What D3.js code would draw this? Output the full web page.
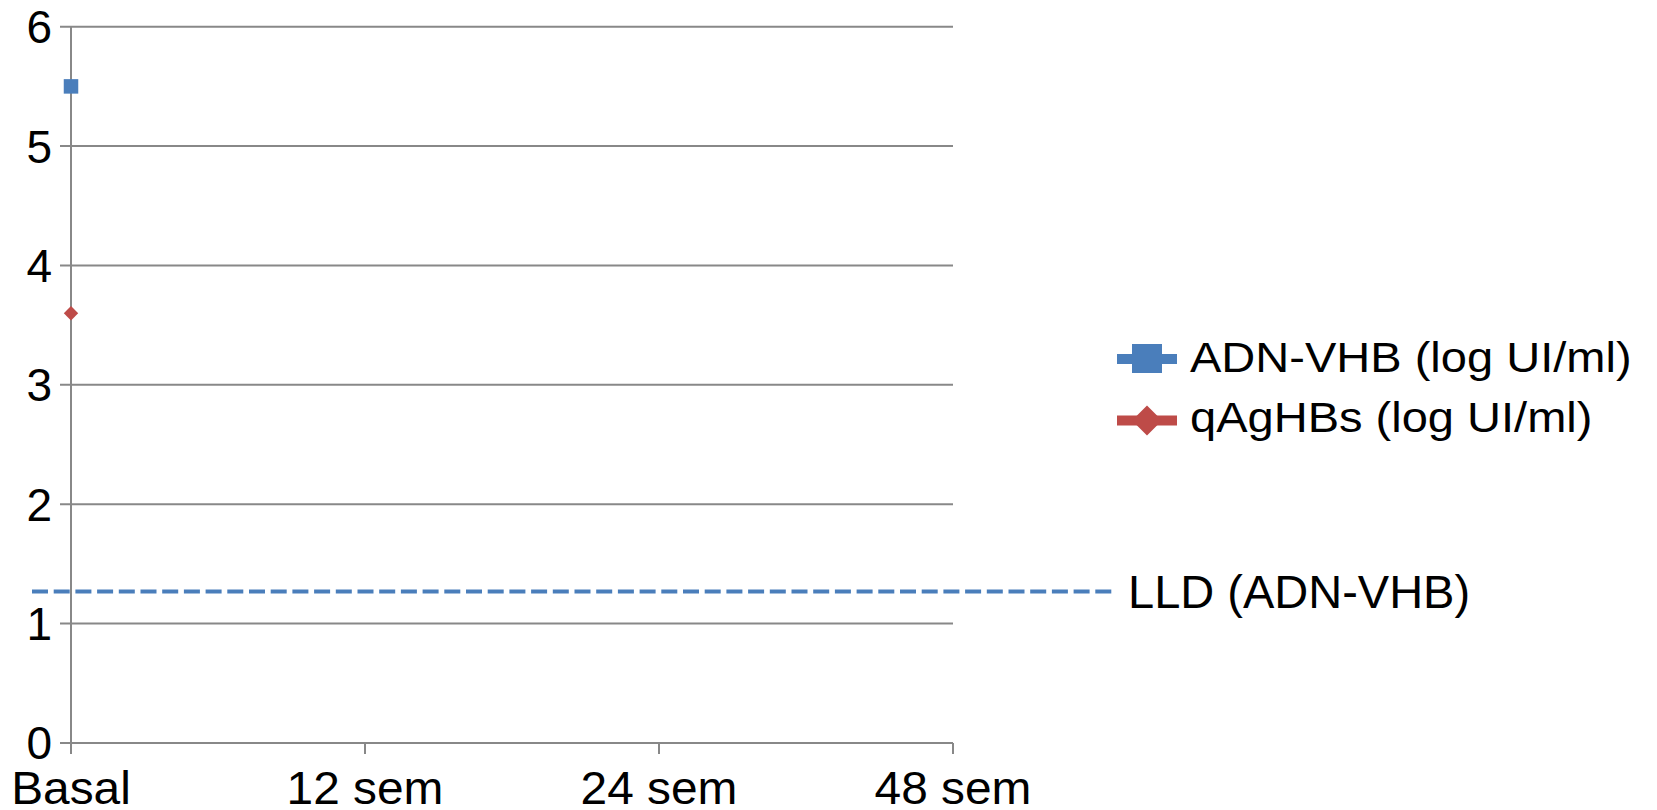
<!DOCTYPE html>
<html>
<head>
<meta charset="utf-8">
<script src="https://cdn.jsdelivr.net/npm/d3@7"></script>
<style>
  html, body { margin: 0; padding: 0; background: #fff; }
  svg { display: block; }
  text { font-family: "Liberation Sans", Arial, sans-serif; fill: #000; }
</style>
</head>
<body>
<svg id="chart" width="1657" height="810"></svg>
<script>
// Time points (x categories)
const categories = ["Basal", "12 sem", "24 sem", "48 sem"];
// Series values per time point (null = not measured)
const adnVhb = [5.5, null, null, null];
const qAgHBs = [3.6, null, null, null];
const seriesNames = ["ADN-VHB (log UI/ml)", "qAgHBs (log UI/ml)"];
// Lower limit of detection for ADN-VHB
const lldValue = 1.27;
const lldLabel = "LLD (ADN-VHB)";
// Y axis ticks
const yTicks = [0, 1, 2, 3, 4, 5, 6];

const blue = "#4a7ebb";
const red = "#be4b48";
const grid = "#888888";
const fontPx = 46;

const svg = d3.select("#chart");

const x = d3.scalePoint().domain(categories).range([71, 953]);
const y = d3.scaleLinear().domain([0, 6]).range([743, 26.7]);

// Horizontal gridlines with left tick stubs
svg.append("g")
  .selectAll("line")
  .data(yTicks)
  .join("line")
  .attr("x1", 60)
  .attr("x2", x.range()[1])
  .attr("y1", d => y(d))
  .attr("y2", d => y(d))
  .attr("stroke", grid)
  .attr("stroke-width", 2);

// Y tick labels
svg.append("g")
  .selectAll("text")
  .data(yTicks)
  .join("text")
  .attr("x", 52)
  .attr("y", d => y(d) + 0.358 * fontPx)
  .attr("text-anchor", "end")
  .style("font-size", fontPx + "px")
  .text(d => d);

// Vertical axis line
svg.append("line")
  .attr("x1", x(categories[0])).attr("x2", x(categories[0]))
  .attr("y1", y(6)).attr("y2", y(0) + 11)
  .attr("stroke", grid).attr("stroke-width", 2);

// X tick marks
svg.append("g")
  .selectAll("line")
  .data(categories)
  .join("line")
  .attr("x1", d => x(d)).attr("x2", d => x(d))
  .attr("y1", y(0)).attr("y2", y(0) + 11)
  .attr("stroke", grid).attr("stroke-width", 2);

// X tick labels
svg.append("g")
  .selectAll("text")
  .data(categories)
  .join("text")
  .attr("transform", d => `translate(${x(d)},804) scale(1.04,1)`)
  .attr("text-anchor", "middle")
  .style("font-size", fontPx + "px")
  .text(d => d);

// LLD dashed reference line
svg.append("line")
  .attr("x1", 32).attr("x2", 1117)
  .attr("y1", y(lldValue)).attr("y2", y(lldValue))
  .attr("stroke", blue)
  .attr("stroke-width", 4)
  .attr("stroke-dasharray", "16,5.7");

svg.append("text")
  .attr("x", 1128)
  .attr("y", y(lldValue) + 0.358 * 47)
  .style("font-size", "47px")
  .text(lldLabel);

// Series markers
const sq = 14.5;
svg.append("g")
  .selectAll("rect")
  .data(categories.map((c, i) => ({ c, v: adnVhb[i] })).filter(d => d.v != null))
  .join("rect")
  .attr("x", d => x(d.c) - sq / 2)
  .attr("y", d => y(d.v) - sq / 2)
  .attr("width", sq)
  .attr("height", sq)
  .attr("fill", blue);

const dm = 7.2;
svg.append("g")
  .selectAll("path")
  .data(categories.map((c, i) => ({ c, v: qAgHBs[i] })).filter(d => d.v != null))
  .join("path")
  .attr("d", d => {
    const cx = x(d.c), cy = y(d.v);
    return `M${cx},${cy - dm}L${cx + dm},${cy}L${cx},${cy + dm}L${cx - dm},${cy}Z`;
  })
  .attr("fill", red);

// Legend
const legend = svg.append("g");
const rows = [
  { name: seriesNames[0], color: blue, shape: "square", cy: 359, base: 372 },
  { name: seriesNames[1], color: red, shape: "diamond", cy: 420.5, base: 432 }
];
rows.forEach(r => {
  legend.append("line")
    .attr("x1", 1117).attr("x2", 1177)
    .attr("y1", r.cy).attr("y2", r.cy)
    .attr("stroke", r.color).attr("stroke-width", 10);
  const cx = 1147;
  if (r.shape === "square") {
    legend.append("rect")
      .attr("x", cx - 15).attr("y", r.cy - 15)
      .attr("width", 30).attr("height", 29)
      .attr("fill", r.color);
  } else {
    legend.append("path")
      .attr("d", `M${cx},${r.cy - 15}L${cx + 15},${r.cy}L${cx},${r.cy + 15}L${cx - 15},${r.cy}Z`)
      .attr("fill", r.color);
  }
  legend.append("text")
    .attr("transform", `translate(1190,${r.base}) scale(1.12,1)`)
    .style("font-size", "42px")
    .text(r.name);
});
</script>
</body>
</html>
